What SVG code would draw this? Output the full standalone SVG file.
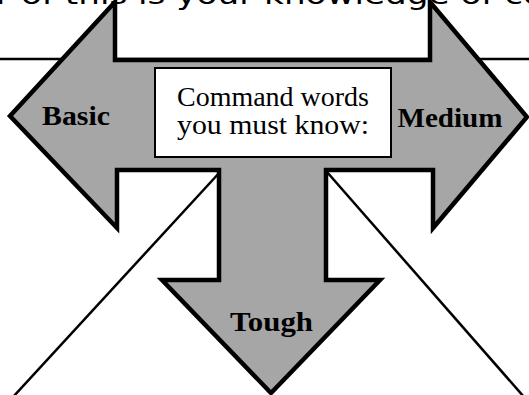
<svg xmlns="http://www.w3.org/2000/svg" width="529" height="395" viewBox="0 0 529 395">
<style>
.lbl{font-family:"Liberation Serif",serif;font-size:27px;font-weight:bold;fill:#000}
.cmd{font-family:"Liberation Serif",serif;font-size:27px;fill:#000}
.ln{stroke:#000;stroke-width:2.5;fill:none}
</style>
<rect width="529" height="395" fill="#fff"/>
<text x="-4" y="4" font-family="DejaVu Sans, sans-serif" font-size="26" textLength="548" lengthAdjust="spacingAndGlyphs">r of this is your knowledge of co</text>
<g id="connectors">
<line class="ln" x1="0" y1="59" x2="529" y2="59"/>
<line class="ln" x1="220" y1="172" x2="13" y2="397"/>
<line class="ln" x1="327" y1="172" x2="524" y2="397"/>
</g>
<g id="arrow">
<path d="M115,2 L115,60 L430,60 L430,2 L527,117 L433,228 L433,170 L326,170 L326,280 L380,280 L271,393 L162,280 L219,280 L219,170 L117,170 L117,228 L10,116 Z" fill="#a6a6a6" stroke="#000" stroke-width="4.5" stroke-linejoin="miter"/>
</g>
<g id="command-box">
<rect x="155" y="68" width="236" height="89" fill="#fff" stroke="#000" stroke-width="2"/>
<text class="cmd" x="273" y="106" text-anchor="middle" textLength="192" lengthAdjust="spacingAndGlyphs">Command words</text>
<text class="cmd" x="273" y="134" text-anchor="middle" textLength="192" lengthAdjust="spacingAndGlyphs">you must know:</text>
</g>
<g id="basic"><text class="lbl" x="76" y="125" text-anchor="middle" textLength="68" lengthAdjust="spacingAndGlyphs">Basic</text></g>
<g id="medium"><text class="lbl" x="450" y="127" text-anchor="middle" textLength="105" lengthAdjust="spacingAndGlyphs">Medium</text></g>
<g id="tough"><text class="lbl" x="271.5" y="331" text-anchor="middle" textLength="83" lengthAdjust="spacingAndGlyphs">Tough</text></g>
</svg>
